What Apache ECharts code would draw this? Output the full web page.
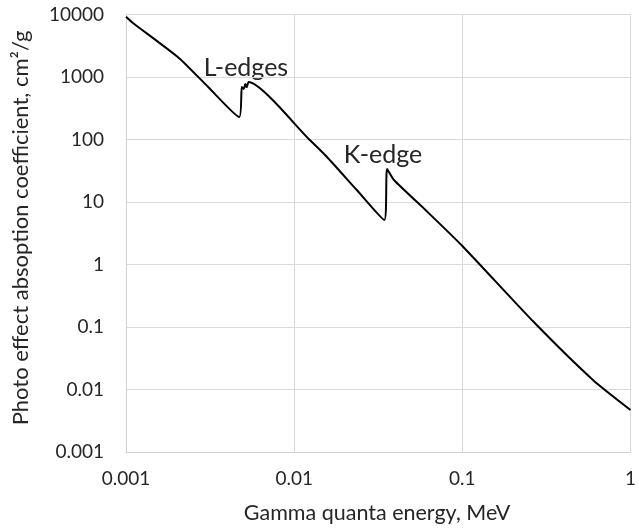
<!DOCTYPE html>
<html>
<head>
<meta charset="utf-8">
<script src="https://cdn.jsdelivr.net/npm/echarts@6/dist/echarts.min.js"></script>
<style>html,body{margin:0;padding:0;background:#fff}#c{width:639px;height:532px}</style>
</head>
<body>
<div id="c"></div>
<script>
const energyMeV = [0.001, 0.0011, 0.00207, 0.0031, 0.00472, 0.00488, 0.00501, 0.00512, 0.00522, 0.00536, 0.0123, 0.01567, 0.0235, 0.0344, 0.0357, 0.0392, 0.0604, 0.1, 0.266, 0.598, 1.0];
const photoCoef = [9200, 7300, 2000, 680, 229, 690, 640, 770, 690, 830, 100, 52.5, 15.7, 5.15, 33.7, 22.5, 7.45, 1.98, 0.12, 0.0142, 0.0047];
const xTickLabels = ['0.001', '0.01', '0.1', '1'];
const yTickLabels = ['0.001', '0.01', '0.1', '1', '10', '100', '1000', '10000'];
const xTitle = 'Gamma quanta energy, MeV';
const yTitle = 'Photo effect absoption coefficient, cm\u00b2/g';
const annotations = [{text: 'L-edges', x: 246, y: 68}, {text: 'K-edge', x: 383, y: 155}];

const FONT = 'Lato';
const TXT = '#262626';
function fmt(list) {
  return function (v) {
    const lg = Math.round(Math.log10(v));
    for (const s of list) { if (Math.round(Math.log10(parseFloat(s))) === lg) return s; }
    return '';
  };
}
const chart = echarts.init(document.getElementById('c'), null, {renderer: 'canvas'});
chart.setOption({
  animation: false,
  grid: {left: 126, right: 1, top: 14.5, bottom: 80, containLabel: false},
  xAxis: {
    type: 'log', logBase: 10, min: 0.001, max: 1,
    axisLine: {show: true, lineStyle: {color: '#d0d0d0', width: 1}},
    axisTick: {show: false},
    splitLine: {show: true, lineStyle: {color: '#d9d9d9', width: 1}},
    axisLabel: {formatter: fmt(xTickLabels), fontFamily: FONT, fontSize: 19, color: TXT, margin: 17}
  },
  yAxis: {
    type: 'log', logBase: 10, min: 0.001, max: 10000,
    axisLine: {show: true, lineStyle: {color: '#d0d0d0', width: 1}},
    axisTick: {show: false},
    splitLine: {show: true, lineStyle: {color: '#d9d9d9', width: 1}},
    axisLabel: {formatter: fmt(yTickLabels), fontFamily: FONT, fontSize: 19, color: TXT, margin: 22}
  },
  series: [{
    type: 'line',
    data: energyMeV.map((e, i) => [e, photoCoef[i]]),
    showSymbol: false,
    smooth: 0.2,
    lineStyle: {color: '#000', width: 2}
  }],
  graphic: [
    {type: 'text', x: 377, y: 513, style: {text: xTitle, font: '21.5px ' + FONT, fill: TXT, textAlign: 'center', textVerticalAlign: 'middle'}},
    {type: 'text', x: 21, y: 228, rotation: Math.PI / 2, style: {text: yTitle, font: '22px ' + FONT, fill: TXT, textAlign: 'center', textVerticalAlign: 'middle'}}
  ].concat(annotations.map(a => ({type: 'text', x: a.x, y: a.y, style: {text: a.text, font: '25px ' + FONT, fill: TXT, textAlign: 'center', textVerticalAlign: 'middle'}})))
});
</script>
</body>
</html>
